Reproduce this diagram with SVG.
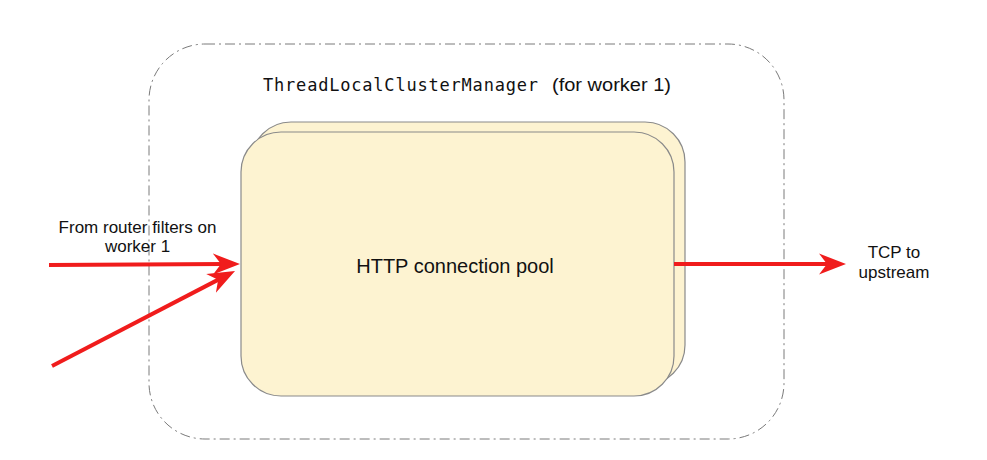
<svg xmlns="http://www.w3.org/2000/svg" width="987" height="460" viewBox="0 0 987 460">
  <style>
    .sans { font-family: "Liberation Sans", Arial, sans-serif; fill: #111; }
    .mono { font-family: "DejaVu Sans Mono", "Liberation Mono", monospace; fill: #111; }
    .card { fill: #fdf3d1; stroke: #8a8a8a; stroke-width: 1.2; }
    .arrow { stroke: #f01c1c; stroke-width: 4; fill: none; marker-end: url(#head); }
  </style>
  <defs>
    <marker id="head" markerUnits="userSpaceOnUse" markerWidth="30" markerHeight="24" viewBox="0 -12 30 24" refX="12" refY="0" orient="auto">
      <path d="M0,-10.5 L27,0 L0,10.5 L8,0 Z" fill="#f01c1c"/>
    </marker>
  </defs>
  <rect width="987" height="460" fill="#ffffff"/>

  <g id="cluster-manager">
    <rect x="149" y="44" width="635" height="395" rx="56" ry="56" fill="none" stroke="#7a7a7a" stroke-width="1" stroke-dasharray="10 4 2 4"/>
    <text x="263" y="91" font-size="17"><tspan class="mono" textLength="275" lengthAdjust="spacing">ThreadLocalClusterManager</tspan><tspan class="sans" x="552" font-size="18" textLength="119" lengthAdjust="spacingAndGlyphs">(for worker 1)</tspan></text>
  </g>

  <g id="connection-pool">
    <rect class="card" x="251" y="122" width="434" height="263" rx="40" ry="40"/>
    <rect class="card" x="241" y="132" width="433" height="264" rx="40" ry="40"/>
    <text class="sans" x="455" y="273" font-size="20" text-anchor="middle">HTTP connection pool</text>
  </g>

  <g id="router-label">
    <text class="sans" x="137.5" y="232.5" font-size="17" text-anchor="middle">From router filters on</text>
    <text class="sans" x="137.5" y="251.5" font-size="17" text-anchor="middle">worker 1</text>
  </g>

  <g id="upstream-label">
    <text class="sans" x="894" y="257.5" font-size="17" text-anchor="middle">TCP to</text>
    <text class="sans" x="894" y="278" font-size="17" text-anchor="middle">upstream</text>
  </g>

  <g id="connectors">
    <line class="arrow" x1="49" y1="265" x2="225" y2="264"/>
    <line class="arrow" x1="52" y1="366" x2="221.7" y2="277.9"/>
    <line class="arrow" x1="674" y1="264" x2="831" y2="264"/>
  </g>
</svg>
